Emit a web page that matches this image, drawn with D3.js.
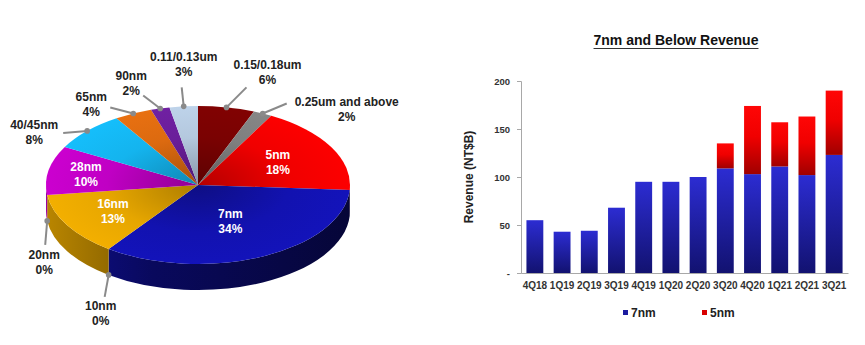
<!DOCTYPE html>
<html>
<head>
<meta charset="utf-8">
<script src="https://cdn.jsdelivr.net/npm/d3@7"></script>
<style>
  body { margin: 0; background: #fff; }
  svg { display: block; font-family: "Liberation Sans", Arial, sans-serif; font-weight: bold; }
</style>
</head>
<body>
<svg id="chart" width="865" height="345"></svg>
<script>
// pie: revenue share by technology, clockwise from 12 o'clock
const nodes = ["0.15/0.18um", "0.25um and above", "5nm", "7nm", "10nm", "16nm", "20nm", "28nm", "40/45nm", "65nm", "90nm", "0.11/0.13um"];
const shares = [6, 2, 18, 34, 0, 13, 0, 10, 8, 4, 2, 3];

// bars: 7nm and below revenue (NT$B)
const quarters = ["4Q18", "1Q19", "2Q19", "3Q19", "4Q19", "1Q20", "2Q20", "3Q20", "4Q20", "1Q21", "2Q21", "3Q21"];
const rev7nm = [55, 43, 44, 68, 95, 95, 100, 109, 103, 111, 102, 123];
const rev5nm = [0, 0, 0, 0, 0, 0, 0, 26, 71, 46, 61, 67];
const yTicks = [0, 50, 100, 150, 200];

// styling / layout
const sliceColors = ["#7a0202", "#7f7f7f", "#f00000", "#1212b0", "#888888", "#e6a600", "#888888", "#c000c4", "#14b4ee", "#dc6a10", "#6a1e9a", "#b4c8de"];
const innerLabel = {"5nm": 0.6, "7nm": 0.5, "16nm": 0.65, "28nm": 0.75};
// leader end offset and first text line centre, relative to the dot
const outerLabel = {
  "0.15/0.18um": {end: [20, -20], text: [41, -43]},
  "0.25um and above": {end: [24, -10], text: [84, -12]},
  "0.11/0.13um": {end: [-2, -19], text: [0, -50]},
  "90nm": {end: [-17, -13], text: [-29, -33]},
  "65nm": {end: [-23, -6], text: [-42, -17]},
  "40/45nm": {end: [-24, 2], text: [-53, -6]},
  "20nm": {end: [-2, 24], text: [-3, 34]},
  "10nm": {end: [-4, 22], text: [-8, 31]}
};

const svg = d3.select("#chart");
const defs = svg.append("defs");

// ---------- 3D pie ----------
const cx = 198, cy = 185, rx = 152, ry = 79, depth = 26;
const P = (a, off = 0) => [cx + rx * Math.sin(a), cy - ry * Math.cos(a) + off];

const pieData = d3.pie().sort(null).value(d => d.v)(nodes.map((n, i) => ({n, v: shares[i], c: sliceColors[i]})));

pieData.forEach((d, i) => {
  const c = d3.color(d.data.c);
  const rg = defs.append("radialGradient").attr("id", "top" + i)
    .attr("gradientUnits", "userSpaceOnUse").attr("cx", cx).attr("cy", cy).attr("r", rx)
    .attr("gradientTransform", `translate(${cx},${cy}) scale(1,${ry / rx}) translate(${-cx},${-cy})`);
  rg.append("stop").attr("offset", 0).attr("stop-color", c.darker(0.8));
  rg.append("stop").attr("offset", 0.6).attr("stop-color", c);
  rg.append("stop").attr("offset", 1).attr("stop-color", c.brighter(0.15));
  const lg = defs.append("linearGradient").attr("id", "wall" + i)
    .attr("gradientUnits", "userSpaceOnUse").attr("x1", cx - rx).attr("x2", cx + rx).attr("y1", 0).attr("y2", 0);
  lg.append("stop").attr("offset", 0).attr("stop-color", c.darker(0.6));
  lg.append("stop").attr("offset", 0.35).attr("stop-color", c.darker(1.8));
  lg.append("stop").attr("offset", 1).attr("stop-color", c.darker(3.2));
});

const pieG = svg.append("g");

// side walls (front half only)
pieG.selectAll(".wall").data(pieData).enter().append("path")
  .attr("class", "wall")
  .attr("fill", (d, i) => `url(#wall${i})`)
  .attr("d", d => {
    const lo = Math.max(d.startAngle, Math.PI / 2), hi = Math.min(d.endAngle, Math.PI * 1.5);
    if (hi <= lo) return null;
    const a = P(lo), b = P(hi), b2 = P(hi, depth), a2 = P(lo, depth);
    return `M${a}A${rx},${ry} 0 0 1 ${b}L${b2}A${rx},${ry} 0 0 0 ${a2}Z`;
  });

// top faces
pieG.selectAll(".face").data(pieData.filter(d => d.value > 0)).enter().append("path")
  .attr("class", "face")
  .attr("fill", d => `url(#top${d.index})`)
  .attr("d", d => {
    const large = d.endAngle - d.startAngle > Math.PI ? 1 : 0;
    return `M${cx},${cy}L${P(d.startAngle)}A${rx},${ry} 0 ${large} 1 ${P(d.endAngle)}Z`;
  });

// inner labels
pieData.filter(d => innerLabel[d.data.n]).forEach(d => {
  const a = (d.startAngle + d.endAngle) / 2, k = innerLabel[d.data.n];
  const x = cx + k * rx * Math.sin(a), y = cy - k * ry * Math.cos(a);
  const t = pieG.append("text").attr("text-anchor", "middle").attr("fill", "#fff").attr("font-size", 12);
  t.append("tspan").attr("x", x).attr("y", y - 3).text(d.data.n);
  t.append("tspan").attr("x", x).attr("y", y + 12).text(d.data.v + "%");
});

// outer labels with leaders
pieData.filter(d => outerLabel[d.data.n]).forEach(d => {
  const a = (d.startAngle + d.endAngle) / 2;
  const front = a > Math.PI / 2 && a < Math.PI * 1.5 && d.value === 0;
  const [x, y] = P(a, front ? depth : 0);
  const L = outerLabel[d.data.n];
  pieG.append("line").attr("x1", x).attr("y1", y).attr("x2", x + L.end[0]).attr("y2", y + L.end[1])
    .attr("stroke", "#8a8a8a").attr("stroke-width", 2);
  pieG.append("circle").attr("cx", x).attr("cy", y).attr("r", 2.8).attr("fill", "#8a8a8a");
  const tx = x + L.text[0], ty = y + L.text[1];
  const t = pieG.append("text").attr("text-anchor", "middle").attr("fill", "#222").attr("font-size", 12);
  t.append("tspan").attr("x", tx).attr("y", ty + 4.5).text(d.data.n);
  t.append("tspan").attr("x", tx).attr("y", ty + 19.5).text(d.data.v + "%");
});

// ---------- stacked bars ----------
const x = d3.scaleBand().domain(quarters).range([521, 848]).paddingInner(0.38).paddingOuter(0.2);
const y = d3.scaleLinear().domain([0, 200]).range([273, 81]);

const blueG = defs.append("linearGradient").attr("id", "barBlue").attr("x1", 0).attr("x2", 0).attr("y1", 0).attr("y2", 1);
blueG.append("stop").attr("offset", 0).attr("stop-color", "#2c2cd2");
blueG.append("stop").attr("offset", 1).attr("stop-color", "#121270");
const redG = defs.append("linearGradient").attr("id", "barRed").attr("x1", 0).attr("x2", 0).attr("y1", 0).attr("y2", 1);
redG.append("stop").attr("offset", 0).attr("stop-color", "#ff0606");
redG.append("stop").attr("offset", 0.45).attr("stop-color", "#f00000");
redG.append("stop").attr("offset", 1).attr("stop-color", "#a00000");

const barG = svg.append("g");
barG.selectAll(".b7").data(quarters).enter().append("rect")
  .attr("class", "b7")
  .attr("x", d => x(d)).attr("width", x.bandwidth())
  .attr("y", (d, i) => y(rev7nm[i])).attr("height", (d, i) => y(0) - y(rev7nm[i]))
  .attr("fill", "url(#barBlue)");
barG.selectAll(".b5").data(quarters.filter((d, i) => rev5nm[i] > 0)).enter().append("rect")
  .attr("class", "b5")
  .attr("x", d => x(d)).attr("width", x.bandwidth())
  .attr("y", d => { const i = quarters.indexOf(d); return y(rev7nm[i] + rev5nm[i]); })
  .attr("height", d => { const i = quarters.indexOf(d); return y(rev7nm[i]) - y(rev7nm[i] + rev5nm[i]); })
  .attr("fill", "url(#barRed)");

// y axis
const yAx = barG.append("g").attr("transform", "translate(521,0)")
  .call(d3.axisLeft(y).tickValues(yTicks).tickSize(4).tickPadding(7).tickFormat(d => d === 0 ? "-" : d));
yAx.selectAll("path, line").attr("stroke", "#a8a8a8");
yAx.selectAll("text").attr("font-size", 9.5).attr("fill", "#333").attr("font-family", null).attr("font-weight", "bold");

// x axis
const xAx = barG.append("g").attr("transform", "translate(0,273)")
  .call(d3.axisBottom(x).tickSize(0).tickPadding(9));
xAx.select("path").attr("stroke", "#a8a8a8");
xAx.selectAll("text").attr("font-size", 10).attr("fill", "#333").attr("font-family", null).attr("font-weight", "bold");

// y title
svg.append("text").attr("transform", "translate(473,177) rotate(-90)")
  .attr("text-anchor", "middle").attr("font-size", 12).attr("fill", "#222").text("Revenue (NT$B)");

// chart title with underline
const title = svg.append("text").attr("x", 676).attr("y", 45).attr("text-anchor", "middle")
  .attr("font-size", 14).attr("fill", "#111").text("7nm and Below Revenue");
const tw = title.node().getComputedTextLength();
svg.append("line").attr("x1", 676 - tw / 2).attr("x2", 676 + tw / 2).attr("y1", 48.5).attr("y2", 48.5)
  .attr("stroke", "#333").attr("stroke-width", 1);

// legend
const legend = [{n: "7nm", c: "#1c1ca0", x: 623}, {n: "5nm", c: "#d80000", x: 702}];
legend.forEach(l => {
  svg.append("rect").attr("x", l.x).attr("y", 310).attr("width", 5).attr("height", 5).attr("fill", l.c);
  svg.append("text").attr("x", l.x + 8).attr("y", 317).attr("font-size", 12).attr("fill", "#222").text(l.n);
});
</script>
</body>
</html>
